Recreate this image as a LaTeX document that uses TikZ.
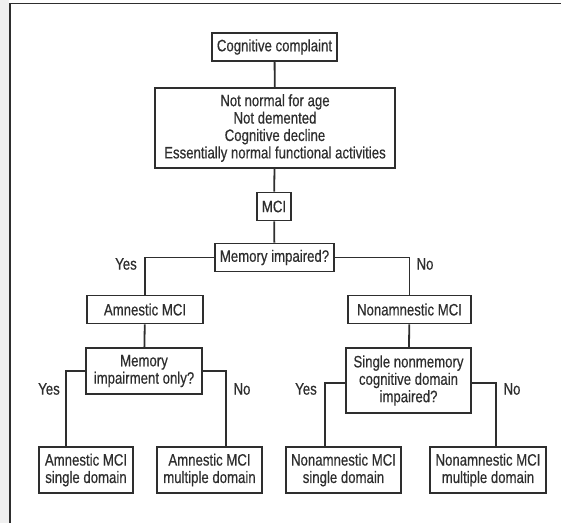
\documentclass[tikz,border=0pt]{standalone}
\usepackage{fontspec}
\newfontfamily\narrowfont[FakeStretch=0.80, FakeBold=0.5]{Liberation Sans}
\usetikzlibrary{positioning}
\definecolor{ink}{HTML}{2E2E2E}
\tikzset{
    box/.style={draw=ink, line width=1.8pt, text=ink, align=center,
        inner xsep=5pt, inner ysep=1pt,
        font=\narrowfont\fontsize{16.5}{17.4}\selectfont},
    onebox/.style={box, minimum height=28pt},
    twobox/.style={box, minimum height=46pt},
    link/.style={draw=ink, line width=1.8pt},
    answer/.style={text=ink, font=\narrowfont\fontsize{16.5}{17.4}\selectfont}
}

\begin{document}
\begin{tikzpicture}[x=1pt, y=-1pt]
    \useasboundingbox (0,0) rectangle (561,523);
    \fill[black!6] (0,0) rectangle (9,523);
    \draw[ink, line width=1.8pt] (10,523) -- (10,3.5) -- (561,3.5);

    % top chain
    \node[onebox] (complaint) at (274.5,47) {Cognitive complaint};
    \node[box, minimum height=80pt, minimum width=240pt] (criteria) at (275,128)
        {Not normal for age\\Not demented\\Cognitive decline\\Essentially normal functional activities};
    \node[onebox] (mci) at (274,206.5) {MCI};
    \node[onebox] (memq) at (274.5,257.5) {Memory impaired?};

    % second level
    \node[onebox, minimum width=116pt] (amn) at (145,309.5) {Amnestic MCI};
    \node[onebox, minimum width=123pt] (nonamn) at (409.5,309.5) {Nonamnestic MCI};
    \node[twobox, minimum width=116pt] (memonly) at (144,371) {Memory\\impairment only?};
    \node[box, minimum height=65pt, minimum width=125pt] (single) at (408.5,380.5)
        {Single nonmemory\\cognitive domain\\impaired?};

    % outcomes
    \node[twobox, minimum width=94pt] (asingle) at (86,470) {Amnestic MCI\\single domain};
    \node[twobox, minimum width=105pt] (amulti) at (209.5,470) {Amnestic MCI\\multiple domain};
    \node[twobox, minimum width=115pt] (nsingle) at (343.5,470) {Nonamnestic MCI\\single domain};
    \node[twobox, minimum width=116pt] (nmulti) at (488,470) {Nonamnestic MCI\\multiple domain};

    \draw[link] (complaint) -- (criteria);
    \draw[link] (criteria) -- (mci);
    \draw[link] (mci) -- (memq);
    \draw[link] (memq.west) -| (amn.north);
    \draw[link] (memq.east) -| (nonamn.north);
    \draw[link] (amn) -- (memonly);
    \draw[link] (nonamn) -- (single);
    \draw[link] (memonly.west) -| ([xshift=-20pt]asingle.north);
    \draw[link] (memonly.east) -| ([xshift=16.5pt]amulti.north);
    \draw[link] ([yshift=-2.5pt]single.west) -| ([xshift=-18.5pt]nsingle.north);
    \draw[link] ([yshift=-2.5pt]single.east) -| ([xshift=8pt]nmulti.north);

    \node[answer] (yes1) at (126,264) {Yes};
    \node[answer] (no1) at (425,264) {No};
    \node[answer] (yes2) at (49,389) {Yes};
    \node[answer] (no2) at (242,389) {No};
    \node[answer] (yes3) at (306,389) {Yes};
    \node[answer] (no3) at (512,389) {No};
\end{tikzpicture}
\end{document}
